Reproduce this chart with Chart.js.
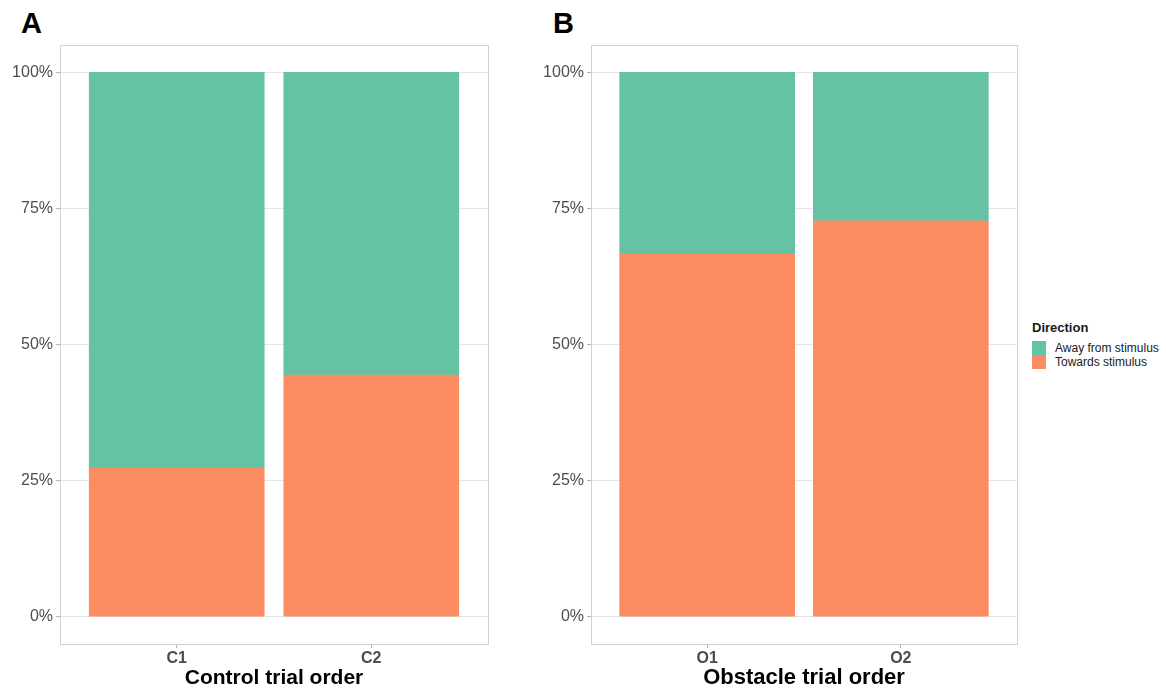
<!DOCTYPE html>
<html>
<head>
<meta charset="utf-8">
<script src="https://cdn.jsdelivr.net/npm/chart.js@4"></script>
<style>
  body { margin: 0; background: #fff; width: 1166px; height: 692px; position: relative; overflow: hidden; font-family: "Liberation Sans", Arial, sans-serif; }
  canvas { position: absolute; top: 0; }
  #chartA { left: 0; }
  #chartB { left: 520px; }
  .tag { position: absolute; top: 9px; font-size: 29px; line-height: 29px; font-weight: bold; color: #000; }
  #legend { position: absolute; left: 1032px; top: 321px; color: #1a1a1a; }
  #legend .ttl { font-size: 13px; line-height: 13px; font-weight: bold; margin-bottom: 7px; }
  #legend .row { display: flex; align-items: center; height: 14px; font-size: 12px; }
  #legend .sw { width: 14px; height: 14px; margin-right: 9px; }
</style>
</head>
<body>
<div class="tag" style="left:21px">A</div>
<div class="tag" style="left:553px">B</div>
<canvas id="chartA" width="500" height="692"></canvas>
<canvas id="chartB" width="510" height="692"></canvas>
<div id="legend"></div>
<script>
// datos (porcentaje de ensayos)
const controlOrder = ['C1', 'C2'];
const controlTowards = [27.3, 44.4];
const controlAway = [72.7, 55.6];
const obstacleOrder = ['O1', 'O2'];
const obstacleTowards = [66.7, 72.7];
const obstacleAway = [33.3, 27.3];
const directions = ['Away from stimulus', 'Towards stimulus'];
const dirColors = ['#66c2a5', '#fc8d62'];
const pctTicks = [0, 25, 50, 75, 100];

// marco gris del panel (estilo ggplot)
const panelBorder = {
    id: 'panelBorder',
    beforeDatasetsDraw(chart) {
        const { ctx, chartArea: a } = chart;
        ctx.save();
        ctx.strokeStyle = '#d0d0d0';
        ctx.lineWidth = 1;
        ctx.strokeRect(Math.round(a.left) + 0.5, Math.round(a.top) + 0.5,
            Math.round(a.right - a.left), Math.round(a.bottom - a.top));
        ctx.restore();
    }
};

function makePanel(id, cats, towards, away, title, axisW, rightPad, titleSize) {
    const toPts = vals => vals.map((v, i) => ({ x: i + 1, y: v }));
    const barStyle = { barThickness: 175, borderWidth: 0 };
    return new Chart(document.getElementById(id), {
        type: 'bar',
        data: {
            datasets: [
                { label: directions[1], data: toPts(towards), backgroundColor: dirColors[1], ...barStyle },
                { label: directions[0], data: toPts(away), backgroundColor: dirColors[0], ...barStyle }
            ]
        },
        options: {
            responsive: false,
            animation: false,
            devicePixelRatio: 1,
            layout: { padding: { top: 45, right: rightPad, left: 0, bottom: 0 } },
            plugins: { legend: { display: false }, tooltip: { enabled: false } },
            scales: {
                x: {
                    type: 'linear', min: 0.4, max: 2.6, stacked: true, offset: false,
                    afterBuildTicks: s => { s.ticks = cats.map((c, i) => ({ value: i + 1 })); },
                    afterFit: s => { s.height = 48; },
                    grid: { offset: false, drawOnChartArea: false, tickLength: 4, tickColor: '#b5b5b5' },
                    border: { display: false },
                    ticks: {
                        callback: v => cats[v - 1], color: '#4d4d4d',
                        font: { size: 16, weight: 'bold' }, padding: 1, maxRotation: 0, autoSkip: false
                    },
                    title: {
                        display: true, text: title, color: '#000',
                        font: { size: titleSize, weight: 'bold' }, padding: { top: 0, bottom: 1 }
                    }
                },
                y: {
                    min: -5, max: 105, stacked: true,
                    afterBuildTicks: s => { s.ticks = pctTicks.map(v => ({ value: v })); },
                    afterFit: s => { s.width = axisW; },
                    grid: { color: '#e4e4e4', tickColor: '#b5b5b5', tickLength: 4 },
                    border: { display: false },
                    ticks: { callback: v => v + '%', color: '#4d4d4d', font: { size: 16 }, padding: 3 }
                }
            }
        },
        plugins: [panelBorder]
    });
}

Chart.defaults.font.family = '"Liberation Sans", Arial, sans-serif';

makePanel('chartA', controlOrder, controlTowards, controlAway, 'Control trial order', 60, 12, 21);
makePanel('chartB', obstacleOrder, obstacleTowards, obstacleAway, 'Obstacle trial order', 71, 13, 22);

// leyenda HTML
document.getElementById('legend').innerHTML =
    '<div class="ttl">Direction</div>' +
    directions.map((d, i) =>
        `<div class="row"><span class="sw" style="background:${dirColors[i]}"></span>${d}</div>`
    ).join('');
</script>
</body>
</html>
